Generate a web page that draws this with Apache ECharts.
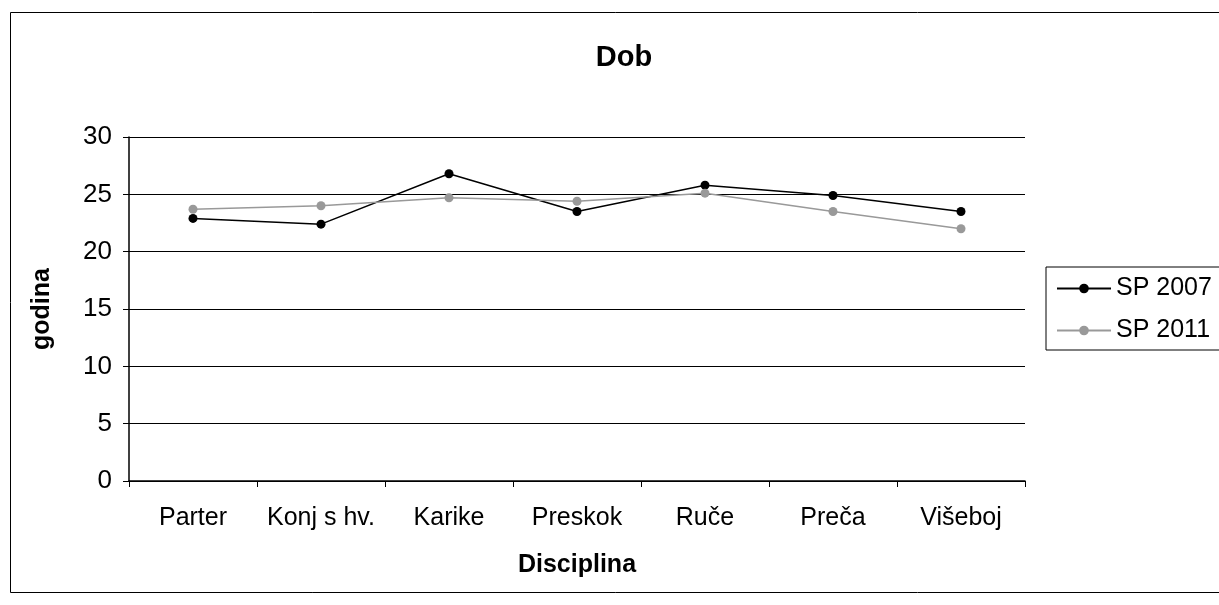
<!DOCTYPE html>
<html><head><meta charset="utf-8">
<script src="https://cdn.jsdelivr.net/npm/echarts@6/dist/echarts.min.js"></script>
<style>html,body{margin:0;padding:0;background:#fff}#c{width:1219px;height:605px}</style>
</head><body><div id="c"></div>
<script>
const categories = ['Parter','Konj s hv.','Karike','Preskok','Ruče','Preča','Višeboj'];
const sp2007 = [22.9, 22.4, 26.8, 23.5, 25.8, 24.9, 23.5];
const sp2011 = [23.7, 24.0, 24.7, 24.4, 25.1, 23.5, 22.0];
const yTicks = {min: 0, max: 30, interval: 5};

const chart = echarts.init(document.getElementById('c'), null, {renderer: 'canvas'});
const font = 'Liberation Sans, Arial, sans-serif';
chart.setOption({
  animation: false,
  textStyle: {fontFamily: font},
  title: {text: 'Dob', left: 619, top: 38, textAlign: 'center',
    textStyle: {fontSize: 29, fontWeight: 'bold', color: '#000', fontFamily: font}},
  graphic: [{type: 'rect', shape: {x: 10.5, y: 12.5, width: 1230, height: 580},
    style: {fill: null, stroke: '#000', lineWidth: 1}, silent: true}],
  grid: {left: 129, right: 194, top: 137, bottom: 124},
  legend: {
    orient: 'vertical', left: 1046, top: 267,
    borderColor: '#000', borderWidth: 1, padding: [9, 40, 7, 10],
    itemWidth: 54, itemHeight: 12, itemGap: 17,
    textStyle: {fontSize: 25, color: '#000', fontFamily: font},
    data: ['SP 2007', 'SP 2011']
  },
  xAxis: {
    type: 'category', data: categories, boundaryGap: true,
    name: 'Disciplina', nameLocation: 'middle', nameGap: 72,
    nameTextStyle: {fontSize: 25, fontWeight: 'bold', color: '#000', fontFamily: font},
    axisLine: {lineStyle: {color: '#000', width: 1.5}},
    axisTick: {show: true, length: 6, interval: 0, lineStyle: {color: '#000'}},
    axisLabel: {fontSize: 25, color: '#000', margin: 25, interval: 0, fontFamily: font},
    splitLine: {show: false}
  },
  yAxis: {
    type: 'value', min: yTicks.min, max: yTicks.max, interval: yTicks.interval,
    name: 'godina', nameLocation: 'middle', nameGap: 74, nameRotate: 90,
    nameTextStyle: {fontSize: 25, fontWeight: 'bold', color: '#000', fontFamily: font},
    axisLine: {show: true, lineStyle: {color: '#000', width: 1.5}},
    axisTick: {show: true, length: 6, lineStyle: {color: '#000'}},
    axisLabel: {fontSize: 26, color: '#000', margin: 17, fontFamily: font},
    splitLine: {show: true, lineStyle: {color: '#000', width: 1}}
  },
  series: [
    {name: 'SP 2007', type: 'line', data: sp2007, symbol: 'circle', symbolSize: 9,
      itemStyle: {color: '#000'}, lineStyle: {color: '#000', width: 1.5}},
    {name: 'SP 2011', type: 'line', data: sp2011, symbol: 'circle', symbolSize: 9,
      itemStyle: {color: '#999'}, lineStyle: {color: '#999', width: 1.5}}
  ]
});
</script></body></html>
